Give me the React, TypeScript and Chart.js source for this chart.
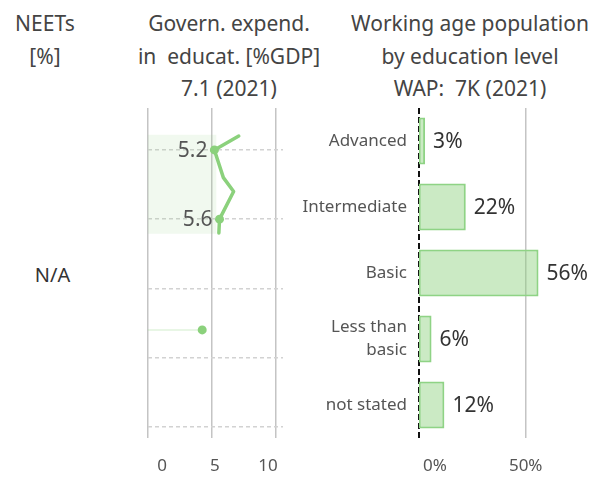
import React, { useEffect, useRef } from 'react';
import { Chart, registerables } from 'chart.js';

Chart.register(...registerables);

const FONT = "'Noto Sans', sans-serif";
const GREEN = '#8bd17c';

// ---- Middle panel: government expenditure in education (% of GDP) ----
const expendYears = [2021, 2020, 2018, 2017, 2015, 2014];
const expendValues = [7.1, 5.2, 5.9, 6.7, 5.6, 5.55];
const expendLabelled = [false, true, false, false, true, false];
const isolatedYears = [2007];
const isolatedValues = [4.25];
const bandYears = [2021.1, 2013.95];
const bandValue = 5.35;
const expendTicks = [0, 5, 10];
const yearGridTicks = [2000, 2005, 2010, 2015, 2020];

// ---- Right panel: working age population by education level ----
const educLevels: (string | string[])[] = ['Advanced', 'Intermediate', 'Basic', ['Less than', 'basic'], 'not stated'];
const educShares = [3, 22, 56, 6, 12];
const shareTicks = [0, 50];

const setTicks = (vals: number[]) => (s: any) => {
  s.ticks = vals.map((v) => ({ value: v }));
};

const fixSize = (dim: 'width' | 'height', size: number) => (s: any) => {
  s[dim] = size;
  s.paddingTop = 0;
  s.paddingBottom = 0;
  s.paddingLeft = 0;
  s.paddingRight = 0;
};

function MiddleChart() {
  const ref = useRef<HTMLCanvasElement>(null);
  useEffect(() => {
    const labelPlugin = {
      id: 'pointLabels',
      afterDatasetsDraw(chart: any) {
        const meta = chart.getDatasetMeta(0);
        const ctx = chart.ctx;
        ctx.save();
        ctx.font = `21px ${FONT}`;
        ctx.fillStyle = '#555';
        ctx.textAlign = 'right';
        ctx.textBaseline = 'middle';
        meta.data.forEach((el: any, i: number) => {
          if (expendLabelled[i]) ctx.fillText(expendValues[i].toFixed(1), el.x - 7, el.y + 1);
        });
        ctx.restore();
      },
    };
    const chart = new Chart(ref.current as HTMLCanvasElement, {
      type: 'scatter',
      data: {
        datasets: [
          {
            data: expendYears.map((y, i) => ({ x: expendValues[i], y })),
            showLine: true,
            borderColor: GREEN,
            borderWidth: 3.5,
            borderJoinStyle: 'round',
            borderCapStyle: 'round',
            pointRadius: expendLabelled.map((l) => (l ? 4.5 : 0)),
            pointBackgroundColor: GREEN,
            pointBorderWidth: 0,
          } as any,
          {
            data: isolatedYears.map((y, i) => ({ x: isolatedValues[i], y })),
            showLine: false,
            pointRadius: 4.5,
            pointBackgroundColor: GREEN,
            pointBorderWidth: 0,
          },
          {
            data: isolatedYears.flatMap((y, i) => [
              { x: 0, y },
              { x: isolatedValues[i], y },
            ]),
            showLine: true,
            borderColor: 'rgba(140,208,125,0.2)',
            borderWidth: 2,
            pointRadius: 0,
          },
          {
            data: [
              { x: 0, y: bandYears[0] },
              { x: bandValue, y: bandYears[0] },
              { x: bandValue, y: bandYears[1] },
              { x: 0, y: bandYears[1] },
              { x: 0, y: bandYears[0] },
            ],
            showLine: true,
            borderWidth: 0,
            borderColor: 'rgba(0,0,0,0)',
            pointRadius: 0,
            fill: 'shape',
            backgroundColor: 'rgba(140,208,125,0.12)',
          } as any,
        ],
      },
      options: {
        animation: false,
        responsive: false,
        maintainAspectRatio: false,
        events: [],
        layout: { padding: { left: 17.7, right: 17, top: 8, bottom: 0 } },
        plugins: { legend: { display: false }, tooltip: { enabled: false } },
        scales: {
          x: {
            type: 'linear',
            min: 0,
            max: 10.55,
            afterBuildTicks: setTicks(expendTicks),
            afterFit: fixSize('height', 0),
            ticks: { display: false },
            grid: { color: '#c4c4c4', lineWidth: 1.5, drawTicks: false },
            border: { display: false },
          },
          x2: {
            type: 'linear',
            axis: 'x',
            position: 'bottom',
            min: -1.35,
            max: 11.42,
            afterBuildTicks: setTicks(expendTicks),
            afterFit: fixSize('height', 41),
            grid: { display: false, drawTicks: false },
            border: { display: false },
            ticks: { font: { size: 17, family: FONT }, color: '#555', padding: 18 },
          },
          y: {
            type: 'linear',
            min: 1999.19,
            max: 2023.03,
            afterBuildTicks: setTicks(yearGridTicks),
            afterFit: fixSize('width', 0),
            ticks: { display: false },
            grid: { color: '#d2d2d2', lineWidth: 1.5, drawTicks: false, borderDash: [4, 3] },
            border: { display: false, dash: [4, 3] },
          },
        } as any,
      },
      plugins: [labelPlugin],
    } as any);
    return () => chart.destroy();
  }, []);
  return (
    <canvas
      ref={ref}
      width={170}
      height={379}
      style={{ position: 'absolute', left: 130, top: 100, width: 170, height: 379 }}
    />
  );
}

function BarChart() {
  const ref = useRef<HTMLCanvasElement>(null);
  useEffect(() => {
    const valuePlugin = {
      id: 'valueLabels',
      afterDatasetsDraw(chart: any) {
        const meta = chart.getDatasetMeta(0);
        const ctx = chart.ctx;
        ctx.save();
        ctx.font = `21px ${FONT}`;
        ctx.fillStyle = '#333';
        ctx.textAlign = 'left';
        ctx.textBaseline = 'middle';
        meta.data.forEach((el: any, i: number) => {
          ctx.fillText(`${educShares[i]}%`, el.x + 8, el.y + 1);
        });
        ctx.restore();
      },
    };
    const chart = new Chart(ref.current as HTMLCanvasElement, {
      type: 'bar',
      data: {
        labels: educLevels as any,
        datasets: [
          {
            data: educShares,
            backgroundColor: 'rgba(140,208,125,0.45)',
            borderColor: '#8fd385',
            borderWidth: 2,
            borderSkipped: false,
            barPercentage: 0.71,
            categoryPercentage: 1,
          },
        ],
      },
      options: {
        indexAxis: 'y',
        animation: false,
        responsive: false,
        maintainAspectRatio: false,
        events: [],
        layout: { padding: { left: 0, right: 6, top: 8, bottom: 0 } },
        plugins: { legend: { display: false }, tooltip: { enabled: false } },
        scales: {
          y: {
            type: 'category',
            afterFit: fixSize('width', 128.7),
            grid: { display: false, drawTicks: false },
            border: { display: false },
            ticks: { font: { size: 17, family: FONT, lineHeight: 1.35 }, color: '#555', padding: 11.7 },
          },
          x: {
            type: 'linear',
            min: 0,
            max: 83.8,
            afterBuildTicks: setTicks([shareTicks[1]]),
            afterFit: fixSize('height', 0),
            ticks: { display: false },
            grid: { color: '#c4c4c4', lineWidth: 1.5, drawTicks: false },
            border: { display: false },
          },
          xz: {
            type: 'linear',
            axis: 'x',
            position: 'bottom',
            min: 0,
            max: 83.8,
            z: 1,
            afterBuildTicks: setTicks([shareTicks[0]]),
            afterFit: fixSize('height', 0),
            ticks: { display: false },
            grid: { color: '#111', lineWidth: 2, drawTicks: false, borderDash: [6, 3] },
            border: { display: false, dash: [6, 3] },
          },
          x2: {
            type: 'linear',
            axis: 'x',
            position: 'bottom',
            min: -8.99,
            max: 89.86,
            afterBuildTicks: setTicks(shareTicks),
            afterFit: fixSize('height', 41),
            grid: { display: false, drawTicks: false },
            border: { display: false },
            ticks: {
              font: { size: 17, family: FONT },
              color: '#555',
              padding: 18,
              callback: (v: any) => `${v}%`,
            },
          },
        } as any,
      },
      plugins: [valuePlugin],
    } as any);
    return () => chart.destroy();
  }, []);
  return (
    <canvas
      ref={ref}
      width={314}
      height={379}
      style={{ position: 'absolute', left: 290, top: 100, width: 314, height: 379 }}
    />
  );
}

const headerStyle = (center: number, width: number): React.CSSProperties => ({
  position: 'absolute',
  left: center - width / 2,
  top: 7.3,
  width,
  textAlign: 'center',
  fontFamily: FONT,
  fontSize: 21,
  lineHeight: '32.5px',
  color: '#444',
  whiteSpace: 'pre',
});

export default function App() {
  return (
    <div
      style={{
        position: 'absolute',
        left: 0,
        top: 0,
        width: 604,
        height: 479,
        overflow: 'hidden',
        background: '#fff',
      }}
    >
      <div style={headerStyle(45, 90)}>
        <div>NEETs</div>
        <div>[%]</div>
      </div>
      <div style={headerStyle(229, 220)}>
        <div>Govern. expend.</div>
        <div>in  educat. [%GDP]</div>
        <div>{`${expendValues[0]} (${expendYears[0]})`}</div>
      </div>
      <div style={headerStyle(470, 260)}>
        <div>Working age population</div>
        <div>by education level</div>
        <div>WAP:  7K (2021)</div>
      </div>
      <div
        style={{
          position: 'absolute',
          left: 12.5,
          top: 265.2,
          width: 80,
          textAlign: 'center',
          fontFamily: FONT,
          fontSize: 20,
          lineHeight: '20px',
          color: '#333',
        }}
      >
        N/A
      </div>
      <MiddleChart />
      <BarChart />
    </div>
  );
}
